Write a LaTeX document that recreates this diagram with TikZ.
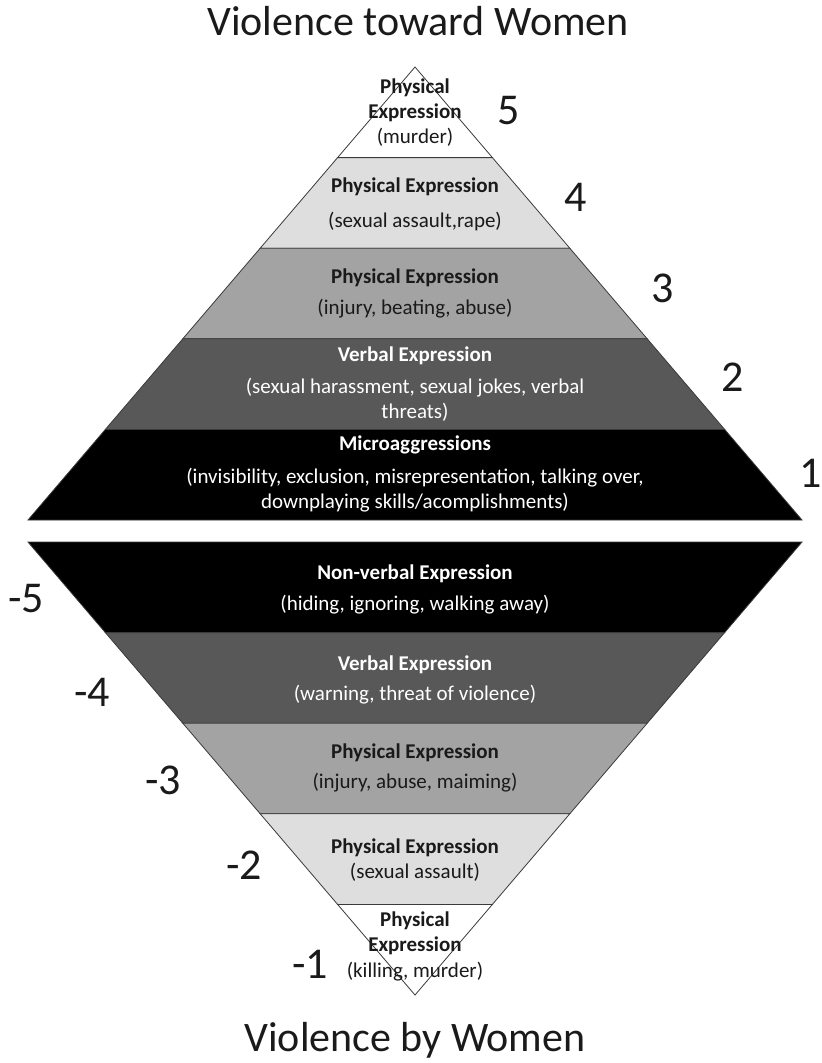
\documentclass[tikz,border=0pt]{standalone}
\usepackage{fontspec}
\setmainfont{Carlito}
\usepackage{tikz}
\usetikzlibrary{calc}
\definecolor{edge}{HTML}{3A3A3A}
\definecolor{lgray}{HTML}{DEDEDE}
\definecolor{mgray}{HTML}{A3A3A3}
\definecolor{dgray}{HTML}{585858}
\definecolor{ink}{HTML}{1A1A1A}
\tikzset{
  band/.style={draw=edge, line width=0.8pt},
  head/.style={text=ink, font=\fontsize{21}{25}\selectfont\bfseries, align=center},
  sub/.style={text=ink, font=\fontsize{21}{25}\selectfont, align=center},
  lvl/.style={text=ink, font=\fontsize{44}{44}\selectfont, inner sep=0pt},
  ttl/.style={text=ink, font=\fontsize{42}{42}\selectfont, anchor=base}
}

\begin{document}
\begin{tikzpicture}[x=1pt, y=-1pt]
  \useasboundingbox (0,0) rectangle (822,1063);

  % corners of the two pyramids
  \coordinate (tA) at (415,67);
  \coordinate (tL) at (28,520);
  \coordinate (tR) at (802,520);
  \coordinate (bA) at (415,995);
  \coordinate (bL) at (28,542);
  \coordinate (bR) at (802,542);

  % upper pyramid, apex down to base
  \foreach \k/\c in {1/white,2/lgray,3/mgray,4/dgray,5/black}
    \filldraw[band, fill=\c] ($(tA)!{(\k-1)/5}!(tL)$) -- ($(tA)!{\k/5}!(tL)$)
      -- ($(tA)!{\k/5}!(tR)$) -- ($(tA)!{(\k-1)/5}!(tR)$) -- cycle;

  % lower pyramid, base down to apex
  \foreach \k/\c in {1/black,2/dgray,3/mgray,4/lgray,5/white}
    \filldraw[band, fill=\c] ($(bA)!{(6-\k)/5}!(bL)$) -- ($(bA)!{(5-\k)/5}!(bL)$)
      -- ($(bA)!{(5-\k)/5}!(bR)$) -- ($(bA)!{(6-\k)/5}!(bR)$) -- cycle;

  % titles
  \node[ttl] (topTitle) at (418,35) {Violence toward Women};
  \node[ttl] (botTitle) at (415,1051) {Violence by Women};

  % upper texts
  \node[head] (up1h) at (415,100) {Physical\\Expression};
  \node[sub] (up1s) at (415,137) {(murder)};
  \node[head] (up2h) at (415,187) {Physical Expression};
  \node[sub] (up2s) at (415,222) {(sexual assault,rape)};
  \node[head] (up3h) at (415,278) {Physical Expression};
  \node[sub] (up3s) at (415,309) {(injury, beating, abuse)};
  \node[head, text=white] (up4h) at (415,356) {Verbal Expression};
  \node[sub, text=white] (up4s) at (415,400) {(sexual harassment, sexual jokes, verbal\\threats)};
  \node[head, text=white] (up5h) at (415,445) {Microaggressions};
  \node[sub, text=white] (up5s) at (415,490) {(invisibility, exclusion, misrepresentation, talking over,\\downplaying skills/acomplishments)};

  % lower texts
  \node[head, text=white] (lo1h) at (415,574) {Non-verbal Expression};
  \node[sub, text=white] (lo1s) at (415,605) {(hiding, ignoring, walking away)};
  \node[head, text=white] (lo2h) at (415,665) {Verbal Expression};
  \node[sub, text=white] (lo2s) at (415,695) {(warning, threat of violence)};
  \node[head] (lo3h) at (415,753) {Physical Expression};
  \node[sub] (lo3s) at (415,783) {(injury, abuse, maiming)};
  \node[head] (lo4h) at (415,848) {Physical Expression};
  \node[sub] (lo4s) at (415,872) {(sexual assault)};
  \node[head] (lo5h) at (415,933) {Physical\\Expression};
  \node[sub] (lo5s) at (415,972) {(killing, murder)};

  % level numbers
  \node[lvl] (n5) at (509,111) {5};
  \node[lvl] (n4) at (576,197) {4};
  \node[lvl] (n3) at (663,288) {3};
  \node[lvl] (n2) at (733,377) {2};
  \node[lvl] (n1) at (811,473) {1};
  \node[lvl] (m5) at (26,599) {-5};
  \node[lvl] (m4) at (92,692) {-4};
  \node[lvl] (m3) at (163,780) {-3};
  \node[lvl] (m2) at (244,865) {-2};
  \node[lvl] (m1) at (310,964) {-1};
\end{tikzpicture}
\end{document}
